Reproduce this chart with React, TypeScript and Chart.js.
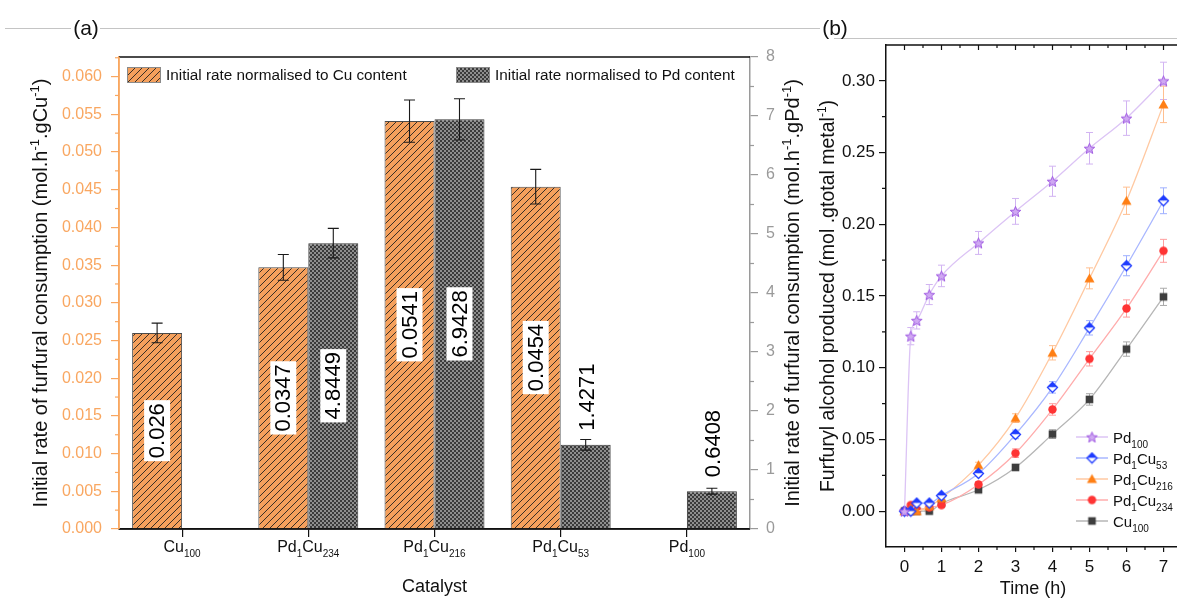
import React, { useEffect, useRef } from 'react';
import { Chart, registerables } from 'chart.js';

Chart.register(...registerables);

const FONT = '"Liberation Sans", Arial, Helvetica, sans-serif';

// ---------- (a) initial rate of furfural consumption ----------
const catalysts = ['Cu100', 'Pd1Cu234', 'Pd1Cu216', 'Pd1Cu53', 'Pd100'];
const rateCu: (number | null)[] = [0.026, 0.0347, 0.0541, 0.0454, null];
const rateCuErr: (number | null)[] = [0.0013, 0.0017, 0.0028, 0.0023, null];
const ratePd: (number | null)[] = [null, 4.8449, 6.9428, 1.4271, 0.6408];
const ratePdErr: (number | null)[] = [null, 0.25, 0.35, 0.09, 0.05];
const cuAxisTicks = [0, 0.005, 0.01, 0.015, 0.02, 0.025, 0.03, 0.035, 0.04, 0.045, 0.05, 0.055, 0.06];
const pdAxisTicks = [0, 1, 2, 3, 4, 5, 6, 7, 8];

// ---------- (b) furfuryl alcohol produced over time ----------
const hours = [0, 0.17, 0.33, 0.67, 1, 2, 3, 4, 5, 6, 7];
const pd100 = [0, 0.122, 0.133, 0.151, 0.164, 0.187, 0.209, 0.23, 0.253, 0.274, 0.3];
const pd100Err = [0.002, 0.006, 0.006, 0.007, 0.0075, 0.008, 0.009, 0.0105, 0.011, 0.012, 0.013];
const pd1cu53 = [0, 0, 0.0056, 0.0056, 0.0108, 0.0263, 0.0535, 0.0863, 0.1278, 0.1711, 0.2164];
const pd1cu53Err = [0.001, 0.001, 0.001, 0.001, 0.0015, 0.002, 0.003, 0.004, 0.005, 0.007, 0.009];
const pd1cu216 = [0, 0.002, 0, 0.0035, 0.009, 0.0321, 0.0649, 0.1104, 0.1623, 0.2164, 0.2836];
const pd1cu216Err = [0.001, 0.001, 0.001, 0.001, 0.0015, 0.002, 0.003, 0.005, 0.0073, 0.0095, 0.0127];
const pd1cu234 = [0, 0.0042, 0.001, 0.0026, 0.0042, 0.0186, 0.0404, 0.0709, 0.1062, 0.1413, 0.1815];
const pd1cu234Err = [0.001, 0.001, 0.001, 0.001, 0.0015, 0.002, 0.003, 0.004, 0.005, 0.006, 0.008];
const cu100 = [0, 0, 0, 0, 0.0055, 0.0149, 0.0305, 0.0537, 0.0779, 0.113, 0.1494];
const cu100Err = [0.001, 0.001, 0.001, 0.001, 0.0015, 0.002, 0.002, 0.003, 0.004, 0.005, 0.006];
const hourTicks = [0, 1, 2, 3, 4, 5, 6, 7];
const yieldTicks = [0, 0.05, 0.1, 0.15, 0.2, 0.25, 0.3];

const ORANGE_AXIS = '#f9a761';
const ORANGE_BAR = '#f5a05c';
const GRAY_AXIS = '#9a9a9a';

type Seg = [string, 'n' | 'sub' | 'sup'];

function chem(s: string): Seg[] {
  return (s.match(/[A-Za-z]+|\d+/g) || []).map((p) => [p, /\d/.test(p) ? 'sub' : 'n'] as Seg);
}

function segSize(k: string, size: number) {
  return k === 'n' ? size : Math.round(size * 0.64);
}

function richWidth(ctx: CanvasRenderingContext2D, segs: Seg[], size: number) {
  let w = 0;
  for (const [t, k] of segs) {
    ctx.font = `${segSize(k, size)}px ${FONT}`;
    w += ctx.measureText(t).width;
  }
  return w;
}

function drawRich(
  ctx: CanvasRenderingContext2D,
  segs: Seg[],
  x: number,
  y: number,
  size: number,
  align: 'left' | 'center',
  color: string
) {
  const w = richWidth(ctx, segs, size);
  let cx = align === 'center' ? x - w / 2 : x;
  ctx.save();
  ctx.fillStyle = color;
  ctx.textAlign = 'left';
  ctx.textBaseline = 'alphabetic';
  for (const [t, k] of segs) {
    ctx.font = `${segSize(k, size)}px ${FONT}`;
    const dy = k === 'sub' ? size * 0.3 : k === 'sup' ? -size * 0.4 : 0;
    ctx.fillText(t, cx, y + dy);
    cx += ctx.measureText(t).width;
  }
  ctx.restore();
}

function drawVerticalTitle(ctx: CanvasRenderingContext2D, segs: Seg[], cx: number, cy: number, size: number) {
  ctx.save();
  ctx.translate(cx, cy);
  ctx.rotate(-Math.PI / 2);
  drawRich(ctx, segs, 0, size * 0.36, size, 'center', '#111');
  ctx.restore();
}

function makeHatch(ctx: CanvasRenderingContext2D) {
  const c = document.createElement('canvas');
  c.width = 7;
  c.height = 7;
  const g = c.getContext('2d')!;
  g.fillStyle = ORANGE_BAR;
  g.fillRect(0, 0, 7, 7);
  g.strokeStyle = '#3a2f25';
  g.lineWidth = 1;
  g.beginPath();
  g.moveTo(-1, 1);
  g.lineTo(1, -1);
  g.moveTo(-1, 8);
  g.lineTo(8, -1);
  g.moveTo(6, 8);
  g.lineTo(8, 6);
  g.stroke();
  return ctx.createPattern(c, 'repeat')!;
}

function makeChecker(ctx: CanvasRenderingContext2D) {
  const c = document.createElement('canvas');
  c.width = 4;
  c.height = 4;
  const g = c.getContext('2d')!;
  g.fillStyle = '#8e8e8e';
  g.fillRect(0, 0, 4, 4);
  g.fillStyle = '#3a3a3a';
  g.fillRect(0, 0, 2, 2);
  g.fillRect(2, 2, 2, 2);
  return ctx.createPattern(c, 'repeat')!;
}

function makeMarker(shape: string, color: string) {
  const size = 13;
  const c = document.createElement('canvas');
  c.width = size;
  c.height = size;
  const g = c.getContext('2d')!;
  g.translate(size / 2, size / 2);
  if (shape === 'star') {
    const R = 5.6;
    const r = 2.4;
    g.beginPath();
    for (let i = 0; i < 10; i++) {
      const rad = i % 2 === 0 ? R : r;
      const a = -Math.PI / 2 + (i * Math.PI) / 5;
      const px = rad * Math.cos(a);
      const py = rad * Math.sin(a) + 0.6;
      if (i === 0) g.moveTo(px, py);
      else g.lineTo(px, py);
    }
    g.closePath();
    g.fillStyle = '#cfa8f2';
    g.fill();
    g.strokeStyle = color;
    g.lineWidth = 1;
    g.stroke();
  } else if (shape === 'diamond') {
    const R = 5;
    g.beginPath();
    g.moveTo(-R, 0);
    g.lineTo(0, -R);
    g.lineTo(R, 0);
    g.closePath();
    g.fillStyle = color;
    g.fill();
    g.beginPath();
    g.moveTo(-R, 0);
    g.lineTo(0, R);
    g.lineTo(R, 0);
    g.closePath();
    g.fillStyle = '#ffffff';
    g.fill();
    g.beginPath();
    g.moveTo(-R, 0);
    g.lineTo(0, -R);
    g.lineTo(R, 0);
    g.lineTo(0, R);
    g.closePath();
    g.strokeStyle = color;
    g.lineWidth = 1.3;
    g.stroke();
  } else if (shape === 'triangle') {
    g.beginPath();
    g.moveTo(0, -5);
    g.lineTo(5, 4);
    g.lineTo(-5, 4);
    g.closePath();
    g.fillStyle = color;
    g.fill();
  } else if (shape === 'circle') {
    g.beginPath();
    g.arc(0, 0, 4.2, 0, Math.PI * 2);
    g.fillStyle = color;
    g.fill();
  } else {
    g.fillStyle = color;
    g.fillRect(-3.8, -3.8, 7.6, 7.6);
  }
  return c;
}

const seriesB = [
  { name: 'Pd100', values: pd100, errors: pd100Err, line: '#dcc4f5', err: '#d2b4f2', mark: '#a05ae2', shape: 'star' },
  { name: 'Pd1Cu53', values: pd1cu53, errors: pd1cu53Err, line: '#a9b7ff', err: '#9fb0ff', mark: '#1f3cff', shape: 'diamond' },
  { name: 'Pd1Cu216', values: pd1cu216, errors: pd1cu216Err, line: '#ffc9a2', err: '#ffbf90', mark: '#ff7f14', shape: 'triangle' },
  { name: 'Pd1Cu234', values: pd1cu234, errors: pd1cu234Err, line: '#ffacac', err: '#ff9e9e', mark: '#ff3434', shape: 'circle' },
  { name: 'Cu100', values: cu100, errors: cu100Err, line: '#b6b6b6', err: '#aaaaaa', mark: '#3e3e3e', shape: 'square' },
];

function drawHeaderLine(ctx: CanvasRenderingContext2D, x1: number, x2: number, y: number) {
  ctx.save();
  ctx.strokeStyle = '#c4c4c4';
  ctx.lineWidth = 1;
  ctx.beginPath();
  ctx.moveTo(x1, y + 0.5);
  ctx.lineTo(x2, y + 0.5);
  ctx.stroke();
  ctx.restore();
}

const panelAPlugin = {
  id: 'panelA',
  afterDraw(chart: any) {
    const { ctx, chartArea: ca, scales } = chart;
    const x = scales.x;
    const yL = scales.yL;
    const yR = scales.yR;
    const errSets = [rateCuErr, ratePdErr];
    const axes = [yL, yR];

    // error bars
    ctx.save();
    ctx.strokeStyle = '#1a1a1a';
    ctx.lineWidth = 1.1;
    chart.data.datasets.forEach((ds: any, di: number) => {
      const meta = chart.getDatasetMeta(di);
      ds.data.forEach((v: number | null, i: number) => {
        const e = errSets[di][i];
        if (v == null || e == null) return;
        const el = meta.data[i];
        const top = axes[di].getPixelForValue(v + e);
        const bot = axes[di].getPixelForValue(v - e);
        ctx.beginPath();
        ctx.moveTo(el.x, top);
        ctx.lineTo(el.x, bot);
        ctx.moveTo(el.x - 5.5, top);
        ctx.lineTo(el.x + 5.5, top);
        ctx.moveTo(el.x - 5.5, bot);
        ctx.lineTo(el.x + 5.5, bot);
        ctx.stroke();
      });
    });
    ctx.restore();

    // value labels
    chart.data.datasets.forEach((ds: any, di: number) => {
      const meta = chart.getDatasetMeta(di);
      ds.data.forEach((v: number | null, i: number) => {
        if (v == null) return;
        const el = meta.data[i];
        const txt = String(v);
        ctx.save();
        ctx.font = `22px ${FONT}`;
        const tw = ctx.measureText(txt).width;
        const barH = el.base - el.y;
        if (barH > tw + 40) {
          const cy = (el.y + el.base) / 2;
          ctx.translate(el.x, cy);
          ctx.rotate(-Math.PI / 2);
          ctx.fillStyle = '#ffffff';
          ctx.fillRect(-tw / 2 - 3, -13, tw + 6, 26);
          ctx.fillStyle = '#000';
          ctx.textAlign = 'center';
          ctx.textBaseline = 'middle';
          ctx.fillText(txt, 0, 1);
        } else {
          ctx.translate(el.x + 1, el.y - 14);
          ctx.rotate(-Math.PI / 2);
          ctx.fillStyle = '#000';
          ctx.textAlign = 'left';
          ctx.textBaseline = 'middle';
          ctx.fillText(txt, 0, 1);
        }
        ctx.restore();
      });
    });

    // frame: top border and redrawn bottom axis
    ctx.save();
    ctx.strokeStyle = '#111';
    ctx.lineWidth = 1.5;
    ctx.beginPath();
    ctx.moveTo(ca.left, ca.top);
    ctx.lineTo(ca.right, ca.top);
    ctx.moveTo(ca.left, ca.bottom);
    ctx.lineTo(ca.right, ca.bottom);
    ctx.stroke();
    ctx.strokeStyle = ORANGE_AXIS;
    ctx.beginPath();
    ctx.moveTo(ca.left, ca.top);
    ctx.lineTo(ca.left, ca.bottom);
    ctx.stroke();

    // minor ticks
    ctx.lineWidth = 1.2;
    for (let k = 0; k < cuAxisTicks.length; k++) {
      const v = cuAxisTicks[k] + 0.0025;
      if (v >= yL.max) continue;
      const py = yL.getPixelForValue(v);
      ctx.beginPath();
      ctx.moveTo(ca.left - 4, py);
      ctx.lineTo(ca.left, py);
      ctx.stroke();
    }
    ctx.strokeStyle = GRAY_AXIS;
    for (let k = 0; k < pdAxisTicks.length - 1; k++) {
      const py = yR.getPixelForValue(pdAxisTicks[k] + 0.5);
      ctx.beginPath();
      ctx.moveTo(ca.right, py);
      ctx.lineTo(ca.right + 4, py);
      ctx.stroke();
    }
    ctx.restore();

    // category labels
    catalysts.forEach((c, i) => {
      const px = x.getPixelForValue(i);
      drawRich(ctx, chem(c), px, ca.bottom + 23, 16, 'center', '#111');
    });

    // axis titles
    drawRich(ctx, [['Catalyst', 'n']], (ca.left + ca.right) / 2, 592, 18, 'center', '#111');
    drawVerticalTitle(
      ctx,
      [
        ['Initial rate of furfural consumption (mol.h', 'n'],
        ['-1', 'sup'],
        ['.gCu', 'n'],
        ['-1', 'sup'],
        [')', 'n'],
      ],
      40,
      (ca.top + ca.bottom) / 2,
      20
    );
    drawVerticalTitle(
      ctx,
      [
        ['Initial rate of furfural consumption (mol.h', 'n'],
        ['-1', 'sup'],
        ['.gPd', 'n'],
        ['-1', 'sup'],
        [')', 'n'],
      ],
      792,
      (ca.top + ca.bottom) / 2,
      20
    );

    // legend
    const legendItems = [
      { x: 127, fill: chart.data.datasets[0].backgroundColor, text: chart.data.datasets[0].label },
      { x: 456, fill: chart.data.datasets[1].backgroundColor, text: chart.data.datasets[1].label },
    ];
    ctx.save();
    for (const it of legendItems) {
      ctx.fillStyle = it.fill;
      ctx.fillRect(it.x, 67, 34, 16);
      ctx.strokeStyle = '#8a8a8a';
      ctx.lineWidth = 1;
      ctx.strokeRect(it.x + 0.5, 67.5, 33, 15);
      ctx.fillStyle = '#111';
      ctx.font = `15.3px ${FONT}`;
      ctx.textAlign = 'left';
      ctx.textBaseline = 'middle';
      ctx.fillText(it.text, it.x + 39, 76);
    }
    ctx.restore();

    // panel heading
    drawHeaderLine(ctx, 5, 71, 28);
    drawHeaderLine(ctx, 100, 820, 28);
    drawRich(ctx, [['(a)', 'n']], 86, 35, 21, 'center', '#111');
  },
};

const panelBPlugin = {
  id: 'panelB',
  beforeDatasetsDraw(chart: any) {
    const { ctx, scales } = chart;
    const xs = scales.x;
    const ys = scales.y;
    ctx.save();
    ctx.lineWidth = 1;
    seriesB.forEach((s) => {
      ctx.strokeStyle = s.err;
      hours.forEach((h, i) => {
        const px = xs.getPixelForValue(h);
        const top = ys.getPixelForValue(s.values[i] + s.errors[i]);
        const bot = ys.getPixelForValue(s.values[i] - s.errors[i]);
        ctx.beginPath();
        ctx.moveTo(px, top);
        ctx.lineTo(px, bot);
        ctx.moveTo(px - 3.5, top);
        ctx.lineTo(px + 3.5, top);
        ctx.moveTo(px - 3.5, bot);
        ctx.lineTo(px + 3.5, bot);
        ctx.stroke();
      });
    });
    ctx.restore();
  },
  afterDraw(chart: any) {
    const { ctx, chartArea: ca, scales } = chart;
    const xs = scales.x;
    const ys = scales.y;

    ctx.save();
    ctx.strokeStyle = '#111';
    ctx.lineWidth = 1.5;
    ctx.beginPath();
    ctx.moveTo(ca.left, ca.top);
    ctx.lineTo(ca.right, ca.top);
    ctx.moveTo(ca.right, ca.top);
    ctx.lineTo(ca.right, ca.bottom);
    ctx.stroke();

    ctx.lineWidth = 1.2;
    // top axis ticks (inward) and bottom minor ticks
    for (let k = -1; k <= 15; k++) {
      const h = k * 0.5;
      if (h <= xs.min || h >= xs.max) continue;
      const px = xs.getPixelForValue(h);
      const major = k % 2 === 0;
      ctx.beginPath();
      ctx.moveTo(px, ca.top);
      ctx.lineTo(px, ca.top + (major ? 5 : 3));
      if (!major) {
        ctx.moveTo(px, ca.bottom);
        ctx.lineTo(px, ca.bottom + 3);
      }
      ctx.stroke();
    }
    // right axis ticks (inward) and left minor ticks
    for (let k = -1; k <= 13; k++) {
      const v = k * 0.025;
      if (v <= ys.min + 1e-9 || v >= ys.max - 1e-9) continue;
      const py = ys.getPixelForValue(v);
      const major = k % 2 === 0;
      ctx.beginPath();
      ctx.moveTo(ca.right, py);
      ctx.lineTo(ca.right - (major ? 5 : 3), py);
      if (!major) {
        ctx.moveTo(ca.left, py);
        ctx.lineTo(ca.left - 4, py);
      }
      ctx.stroke();
    }
    ctx.restore();

    // legend
    const lx = 276;
    seriesB.forEach((s, i) => {
      const ly = 437 + i * 21;
      ctx.save();
      ctx.strokeStyle = s.line;
      ctx.lineWidth = 1.5;
      ctx.beginPath();
      ctx.moveTo(lx, ly);
      ctx.lineTo(lx + 32, ly);
      ctx.stroke();
      const img = chart.data.datasets[i].pointStyle;
      ctx.drawImage(img, lx + 16 - img.width / 2, ly - img.height / 2);
      ctx.restore();
      drawRich(ctx, chem(s.name), lx + 37, ly + 6, 15, 'left', '#111');
    });

    // axis titles
    drawRich(ctx, [['Time (h)', 'n']], (ca.left + ca.right) / 2 - 1, 594, 18, 'center', '#111');
    drawVerticalTitle(
      ctx,
      [
        ['Furfuryl alcohol produced (mol .gtotal metal', 'n'],
        ['-1', 'sup'],
        [')', 'n'],
      ],
      27,
      (ca.top + ca.bottom) / 2,
      19.5
    );

    // panel heading
    drawHeaderLine(ctx, 0, 19, 28);
    drawHeaderLine(ctx, 34, 400, 38);
    drawRich(ctx, [['(b)', 'n']], 35, 35, 21, 'center', '#111');
  },
};

export default function App() {
  const refA = useRef<HTMLCanvasElement | null>(null);
  const refB = useRef<HTMLCanvasElement | null>(null);

  useEffect(() => {
    const ctxA = refA.current!.getContext('2d')!;
    const hatch = makeHatch(ctxA);
    const checker = makeChecker(ctxA);

    const chartA = new Chart(refA.current!, {
      type: 'bar',
      data: {
        labels: catalysts,
        datasets: [
          {
            label: 'Initial rate normalised to Cu content',
            data: rateCu,
            yAxisID: 'yL',
            backgroundColor: hatch,
            borderColor: '#4a4a4a',
            borderWidth: 1,
            categoryPercentage: 0.792,
            barPercentage: 1,
          },
          {
            label: 'Initial rate normalised to Pd content',
            data: ratePd,
            yAxisID: 'yR',
            backgroundColor: checker,
            borderColor: '#3a3a3a',
            borderWidth: 1,
            categoryPercentage: 0.792,
            barPercentage: 1,
          },
        ],
      } as any,
      options: {
        responsive: false,
        animation: false,
        devicePixelRatio: 1,
        layout: { padding: { left: 59, right: 30, top: 57, bottom: 43 } },
        plugins: { legend: { display: false }, tooltip: { enabled: false }, title: { display: false } },
        scales: {
          x: {
            type: 'category',
            offset: true,
            grid: { offset: false, drawOnChartArea: false, drawTicks: true, tickLength: 8, color: '#111', lineWidth: 1.2 },
            border: { color: '#111', width: 1.5 },
            ticks: { display: false },
            afterFit: (s: any) => {
              s.height = 30;
            },
          },
          yL: {
            type: 'linear',
            position: 'left',
            min: 0,
            max: 0.0626,
            afterBuildTicks: (s: any) => {
              s.ticks = cuAxisTicks.map((v) => ({ value: v }));
            },
            ticks: {
              color: ORANGE_AXIS,
              font: { family: FONT, size: 16 },
              padding: 9,
              callback: (v: any) => Number(v).toFixed(3),
            },
            grid: { drawOnChartArea: false, tickLength: 8, color: ORANGE_AXIS, lineWidth: 1.2 },
            border: { color: ORANGE_AXIS, width: 1.5 },
            afterFit: (s: any) => {
              s.width = 60;
            },
          },
          yR: {
            type: 'linear',
            position: 'right',
            min: 0,
            max: 8,
            afterBuildTicks: (s: any) => {
              s.ticks = pdAxisTicks.map((v) => ({ value: v }));
            },
            ticks: {
              color: GRAY_AXIS,
              font: { family: FONT, size: 16 },
              padding: 8,
              callback: (v: any) => String(v),
            },
            grid: { drawOnChartArea: false, tickLength: 8, color: GRAY_AXIS, lineWidth: 1.2 },
            border: { color: GRAY_AXIS, width: 1.5 },
            afterFit: (s: any) => {
              s.width = 40;
            },
          },
        },
      } as any,
      plugins: [panelAPlugin],
    });

    const chartB = new Chart(refB.current!, {
      type: 'line',
      data: {
        datasets: seriesB.map((s) => ({
          label: s.name,
          data: hours.map((h, i) => ({ x: h, y: s.values[i] })),
          borderColor: s.line,
          borderWidth: 1.3,
          backgroundColor: s.mark,
          pointStyle: makeMarker(s.shape, s.mark),
          pointRadius: 5,
          pointHoverRadius: 5,
          cubicInterpolationMode: 'monotone',
          fill: false,
        })),
      } as any,
      options: {
        responsive: false,
        animation: false,
        devicePixelRatio: 1,
        layout: { padding: { left: 30, right: 18, top: 45, bottom: 15 } },
        plugins: { legend: { display: false }, tooltip: { enabled: false }, title: { display: false } },
        scales: {
          x: {
            type: 'linear',
            min: -0.5,
            max: 7.5,
            afterBuildTicks: (s: any) => {
              s.ticks = hourTicks.map((v) => ({ value: v }));
            },
            ticks: {
              color: '#111',
              font: { family: FONT, size: 17 },
              padding: 5,
              maxRotation: 0,
              callback: (v: any) => String(v),
            },
            grid: { drawOnChartArea: false, tickLength: 5, color: '#111', lineWidth: 1.2 },
            border: { color: '#111', width: 1.5 },
            afterFit: (s: any) => {
              s.height = 40;
            },
          },
          y: {
            type: 'linear',
            min: -0.025,
            max: 0.325,
            afterBuildTicks: (s: any) => {
              s.ticks = yieldTicks.map((v) => ({ value: v }));
            },
            ticks: {
              color: '#111',
              font: { family: FONT, size: 17 },
              padding: 4,
              callback: (v: any) => Number(v).toFixed(2),
            },
            grid: { drawOnChartArea: false, tickLength: 7, color: '#111', lineWidth: 1.2 },
            border: { color: '#111', width: 1.5 },
            afterFit: (s: any) => {
              s.width = 56;
            },
          },
        },
      } as any,
      plugins: [panelBPlugin],
    });

    return () => {
      chartA.destroy();
      chartB.destroy();
    };
  }, []);

  return (
    <div
      style={{
        position: 'fixed',
        left: 0,
        top: 0,
        width: 1177,
        height: 602,
        overflow: 'hidden',
        background: '#ffffff',
      }}
    >
      <canvas
        ref={refA}
        width={820}
        height={602}
        style={{ position: 'absolute', left: 0, top: 0, width: 820, height: 602 }}
      />
      <canvas
        ref={refB}
        width={400}
        height={602}
        style={{ position: 'absolute', left: 800, top: 0, width: 400, height: 602 }}
      />
    </div>
  );
}
